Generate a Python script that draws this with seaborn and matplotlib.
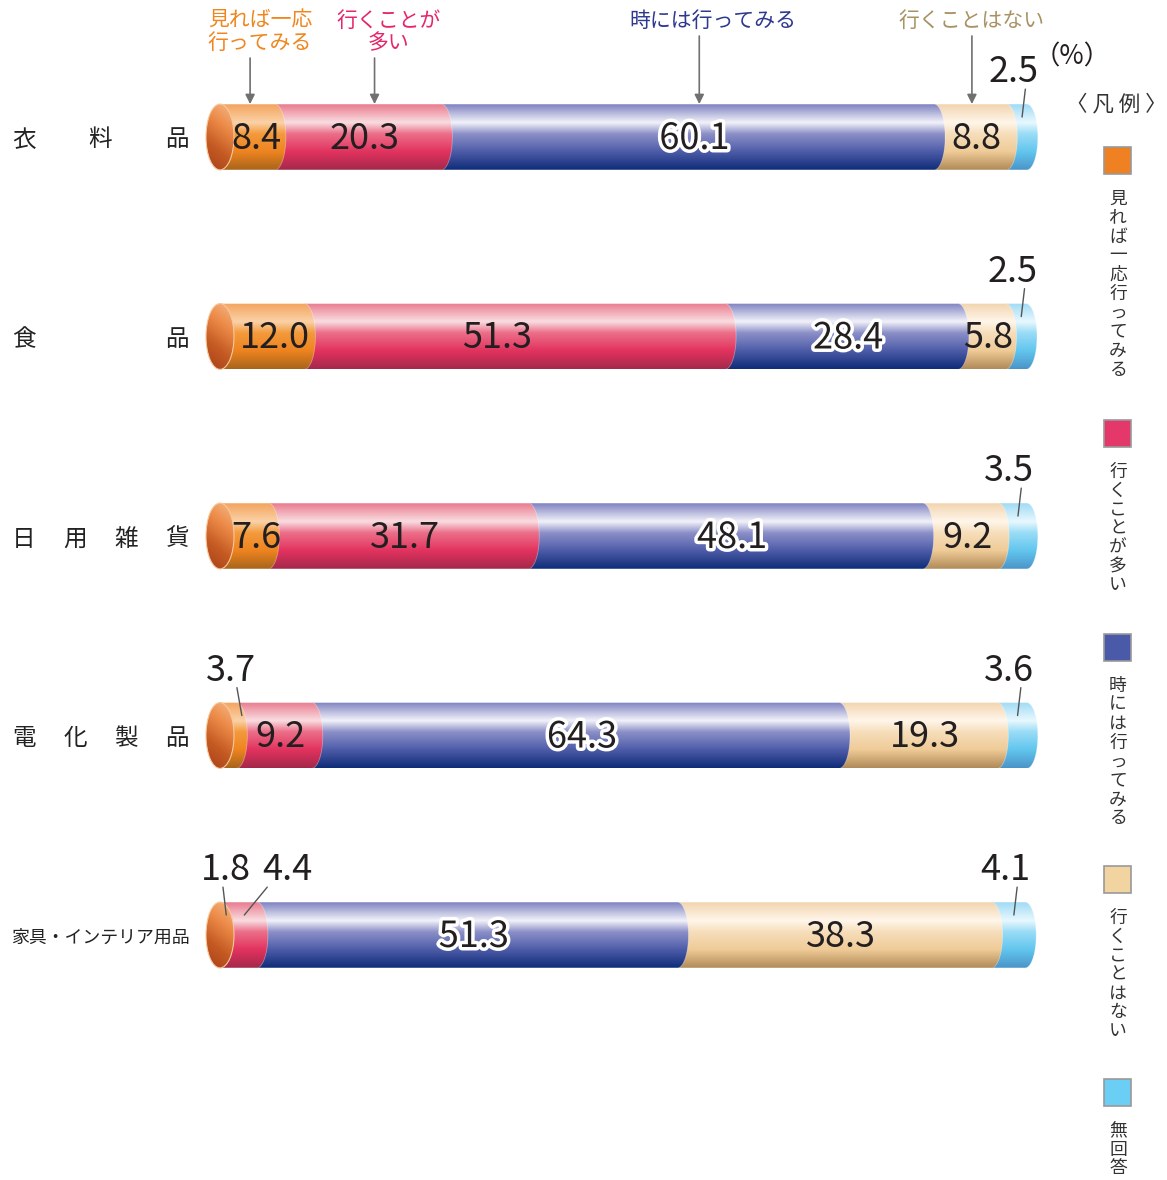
import matplotlib
matplotlib.use("Agg")
import matplotlib.pyplot as plt
import matplotlib.patheffects as pe
import numpy as np
import pandas as pd
import seaborn as sns
from matplotlib.colors import LinearSegmentedColormap
from matplotlib.patches import Polygon, Ellipse, Rectangle

# データ
categories = ["衣料品", "食品", "日用雑貨", "電化製品", "家具・インテリア用品"]
series_names = ["見れば一応行ってみる", "行くことが多い", "時には行ってみる", "行くことはない", "無回答"]
mireba = [8.4, 12.0, 7.6, 3.7, 1.8]
ooi = [20.3, 51.3, 31.7, 9.2, 4.4]
tokiniwa = [60.1, 28.4, 48.1, 64.3, 51.3]
nai = [8.8, 5.8, 9.2, 19.3, 38.3]
mukaito = [2.5, 2.5, 3.5, 3.6, 4.1]

base_colors = ["#F08122", "#E4386A", "#4A5AA8", "#F2D4A0", "#6ACEF5"]
grad_colors = [
    ["#F4A45E", "#FAD2A8", "#F39A3C", "#EE8420", "#A8641A"],
    ["#E97B8E", "#F9DDE1", "#EB6F89", "#E2335F", "#A4284A"],
    ["#7E82C0", "#F2F2FA", "#8C90C8", "#4E5CA8", "#0E2C78"],
    ["#F2D4AE", "#FFF6EA", "#F6DEBB", "#EFCB97", "#B08A58"],
    ["#9FDBF5", "#E8F8FE", "#9ADCF6", "#62C6EE", "#4A94C8"],
]
grad_pos = [0, 0.28, 0.45, 0.72, 1]

sns.set_theme(style="white")
plt.rcParams["font.family"] = ["Noto Sans CJK JP", "DejaVu Sans"]

fig = plt.figure(figsize=(11.67, 11.8), dpi=100)
ax = fig.add_axes([0, 0, 1, 1])

# ピクセル -> データ座標
PX = 8.2     # 1% あたりの px
X0 = 206
ROW = 199.5
def xd(px):
    return (px - X0) / PX
def yd(py):
    return (py - 137) / ROW

values = np.array([mireba, ooi, tokiniwa, nai, mukaito])
cum = values.cumsum(axis=0)

# 累積値の棒を大きい順に seaborn で描く
rights = {}
for i in reversed(range(5)):
    n0 = len(ax.patches)
    sns.barplot(x=cum[i], y=categories, orient="h", color=base_colors[i],
                width=0.33, errorbar=None, ax=ax)
    rights[i] = ax.patches[n0:]

rx = 11 / PX       # 境目の丸み
cap_rx = 14 / PX   # 左端の円
grad = np.linspace(0, 1, 256).reshape(-1, 1)

label_pos = {}
for i in range(5):
    cm = LinearSegmentedColormap.from_list(f"g{i}", list(zip(grad_pos, grad_colors[i])))
    for j, p in enumerate(rights[i]):
        p.set_visible(False)
        x1 = p.get_width()
        y = p.get_y()
        h = p.get_height()
        yc = y + h / 2
        x0 = rights[i - 1][j].get_width() if i > 0 else cap_rx
        t = np.linspace(-np.pi / 2, np.pi / 2, 40)
        arc = np.column_stack([x1 + rx * np.cos(t), yc + h / 2 * np.sin(t)])
        pts = np.vstack([[x0, y], arc, [x0, y + h]])
        poly = Polygon(pts, closed=True, transform=ax.transData)
        im = ax.imshow(grad, cmap=cm, extent=(x0, x1 + rx, y + h, y), aspect="auto",
                       origin="upper", zorder=10 - i, interpolation="bilinear")
        im.set_clip_path(poly)
        ax.add_patch(Polygon(pts, closed=True, facecolor="none", edgecolor="white",
                             lw=0.6, alpha=0.35, zorder=10 - i))
        if i == 0:
            lx = (2 * cap_rx + x1 + rx) / 2
            ex = x1 + rx * 0.5
        else:
            lx = (x0 + x1) / 2 + rx * 0.6
            ex = (x0 + x1) / 2 + rx * 0.5
        label_pos[(j, i)] = (lx, ex, yc, h)

# 左端のふた
cap_cm = LinearSegmentedColormap.from_list("cap", ["#F7B987", "#EC8A48", "#C45A22", "#A8401A"])
rr, cc = np.mgrid[0:1:64j, 0:1:64j]
cap_img = 0.75 * rr + 0.25 * (1 - cc)
for j, p in enumerate(rights[0]):
    y = p.get_y()
    h = p.get_height()
    yc = y + h / 2
    el = Ellipse((cap_rx, yc), 2 * cap_rx, h, transform=ax.transData)
    im = ax.imshow(cap_img, cmap=cap_cm, extent=(0, 2 * cap_rx, y + h, y), aspect="auto",
                   origin="upper", zorder=12, interpolation="bilinear")
    im.set_clip_path(el)
    ax.add_patch(Ellipse((cap_rx, yc), 2 * cap_rx, h, facecolor="none",
                         edgecolor="#F6C89C", lw=0.8, zorder=12))

# 数値ラベル
txt_color = "#231F20"
inner_shift = {(1, 1): -3.0, (0, 0): -0.4}
label_shift = {(3, 0): (-1.3, -0.6), (4, 0): (-0.1, -0.4), (4, 1): (5.2, 2.8)}
for (j, i), (lx, ex, yc, h) in label_pos.items():
    v = values[i][j]
    s = f"{v:.1f}"
    if v >= 5:
        kw = {}
        if i == 2:
            kw["path_effects"] = [pe.withStroke(linewidth=5, foreground="white")]
        ax.text(lx + inner_shift.get((j, i), 0), yc + 0.01, s, ha="center", va="center",
                fontsize=26, color=txt_color, zorder=20, **kw)
    else:
        dx, ldx = label_shift.get((j, i), (-1.1, 0.4))
        top = yc - h / 2
        ax.text(ex + dx, top - 0.16, s, ha="center", va="center", fontsize=26,
                color=txt_color, zorder=20)
        ax.plot([ex + ldx, ex], [top - 0.075, top + 0.065], color="#555555",
                lw=1.0, zorder=21)

# 上部の説明と矢印
top_labels = ["見れば一応\n行ってみる", "行くことが\n多い", "時には行ってみる", "行くことはない"]
top_colors = ["#F0861E", "#E5266B", "#2E388F", "#A89263"]
arrow_dx = [-1.2, 1.2, 0.6, -0.6]
text_dx = [1.2, 1.7, 1.6, 0.0]
bar_top0 = label_pos[(0, 0)][2] - label_pos[(0, 0)][3] / 2
for k in range(4):
    a_x = label_pos[(0, k)][0] + arrow_dx[k]
    two = "\n" in top_labels[k]
    ax.annotate("", xy=(a_x, bar_top0), xytext=(a_x, yd(58 if two else 36)),
                arrowprops=dict(arrowstyle="-|>", color="#707070", lw=1.2,
                                mutation_scale=14, shrinkA=0, shrinkB=0),
                annotation_clip=False, zorder=22)
    ax.text(a_x + text_dx[k], yd(10), top_labels[k], ha="center", va="top",
            fontsize=15, color=top_colors[k], linespacing=1.0)

ax.text(xd(1072), yd(57), "（%）", ha="center", va="center", fontsize=19, color=txt_color)
ax.text(xd(1116), yd(104), "〈 凡 例 〉", ha="center", va="center", fontsize=15.5, color="#333333")

# 左の項目名（均等割り）
for j, c in enumerate(categories):
    ty = j + 3 / ROW
    if len(c) <= 4:
        xs = np.linspace(24, 177, len(c))
        for ch, px in zip(c, xs):
            ax.text(xd(px), ty, ch, ha="center", va="center", fontsize=17, color="#222222")
    else:
        ax.text(xd(100), ty, c, ha="center", va="center", fontsize=12.9, color="#222222")

# 凡例（縦書き）
legend_tops = [147, 420, 634, 866, 1079]
sq = 27
step = 19.0
for i, name in enumerate(series_names):
    ytop = legend_tops[i]
    ax.add_patch(Rectangle((xd(1104), yd(ytop)), sq / PX, sq / ROW, facecolor=base_colors[i],
                           edgecolor="#999999", lw=1.2, clip_on=False))
    ts = ytop + sq + 15
    for k, ch in enumerate(name):
        ax.text(xd(1118), yd(ts + (k + 0.5) * step), ch, ha="center", va="center",
                fontsize=12.8, color="#333333")

ax.set_xlim(xd(0), xd(1167))
ax.set_ylim(yd(1180), yd(0))
ax.axis("off")
fig.savefig("out.png", dpi=100)
